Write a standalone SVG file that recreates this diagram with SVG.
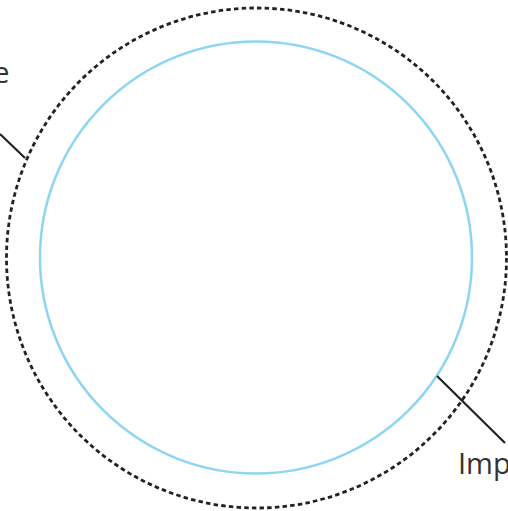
<svg xmlns="http://www.w3.org/2000/svg" width="508" height="511" viewBox="0 0 508 511">
<style>
.lbl{font-family:"Open Sans","Liberation Sans",sans-serif;font-size:29px;fill:#333}
.conn{stroke:#222;stroke-width:2.2;fill:none}
</style>
<rect width="508" height="511" fill="#fff"/>
<g id="outer">
<circle cx="256.5" cy="258" r="250" fill="none" stroke="#222" stroke-width="2.8" stroke-dasharray="4.5 3.2"/>
</g>
<g id="inner">
<circle cx="256" cy="257.5" r="216" fill="none" stroke="#8dd5f3" stroke-width="2.5"/>
</g>
<g id="connectors">
<line class="conn" x1="0" y1="134" x2="25" y2="158"/>
<line class="conn" x1="437" y1="376" x2="505" y2="443"/>
</g>
<g id="label-left">
<text class="lbl" x="9.5" y="83" text-anchor="end">e</text>
</g>
<g id="label-right">
<text class="lbl" x="458" y="474">Imp</text>
</g>
</svg>
